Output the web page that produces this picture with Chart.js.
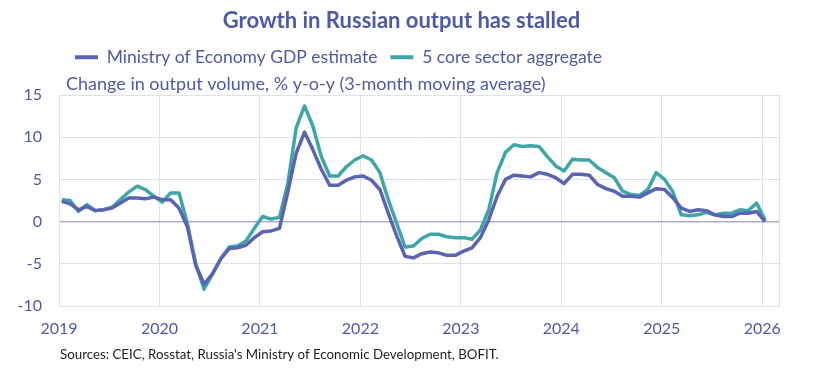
<!DOCTYPE html>
<html>
<head>
<meta charset="utf-8">
<script src="https://cdn.jsdelivr.net/npm/chart.js@4.4.0/dist/chart.umd.min.js"></script>
<style>
    html, body { margin: 0; padding: 0; background: #fff; }
</style>
</head>
<body>
<canvas id="outputChart" width="815" height="379"></canvas>
<script>
console.log("chart script initializing.");

// months plotted, Jan 2019 .. Jan 2026
const months = [
    '2019-01','2019-02','2019-03','2019-04','2019-05','2019-06','2019-07','2019-08','2019-09','2019-10','2019-11','2019-12',
    '2020-01','2020-02','2020-03','2020-04','2020-05','2020-06','2020-07','2020-08','2020-09','2020-10','2020-11','2020-12',
    '2021-01','2021-02','2021-03','2021-04','2021-05','2021-06','2021-07','2021-08','2021-09','2021-10','2021-11','2021-12',
    '2022-01','2022-02','2022-03','2022-04','2022-05','2022-06','2022-07','2022-08','2022-09','2022-10','2022-11','2022-12',
    '2023-01','2023-02','2023-03','2023-04','2023-05','2023-06','2023-07','2023-08','2023-09','2023-10','2023-11','2023-12',
    '2024-01','2024-02','2024-03','2024-04','2024-05','2024-06','2024-07','2024-08','2024-09','2024-10','2024-11','2024-12',
    '2025-01','2025-02','2025-03','2025-04','2025-05','2025-06','2025-07','2025-08','2025-09','2025-10','2025-11','2025-12',
    '2026-01'
];

// Ministry of Economy GDP estimate, % y-o-y (3mma)
const gdpEstimate = [
    2.4, 2.1, 1.4, 1.8, 1.3, 1.4, 1.6, 2.2, 2.8, 2.8, 2.7, 2.9,
    2.6, 2.6, 1.6, -0.6, -5.2, -7.4, -6.2, -4.4, -3.2, -3.1, -2.8, -1.9,
    -1.2, -1.1, -0.8, 3.5, 8.1, 10.6, 8.5, 6.2, 4.3, 4.3, 4.9, 5.3,
    5.4, 4.9, 3.8, 1.0, -1.7, -4.1, -4.3, -3.8, -3.6, -3.7, -4.0, -4.0,
    -3.5, -3.1, -1.9, 0.2, 3.0, 5.0, 5.5, 5.4, 5.3, 5.8, 5.6, 5.2,
    4.5, 5.6, 5.6, 5.5, 4.4, 3.9, 3.6, 3.0, 3.0, 2.9, 3.4, 3.9,
    3.8, 2.8, 1.6, 1.2, 1.4, 1.3, 0.8, 0.6, 0.6, 1.0, 1.0, 1.2,
    0.0
];

// 5 core sector aggregate, % y-o-y (3mma)
const coreSectors = [
    2.6, 2.5, 1.2, 2.0, 1.3, 1.4, 1.7, 2.6, 3.5, 4.2, 3.8, 3.0,
    2.3, 3.4, 3.4, -0.2, -5.0, -8.0, -6.2, -4.4, -3.0, -2.9, -2.3, -0.8,
    0.6, 0.3, 0.5, 4.5, 11.1, 13.7, 11.3, 7.7, 5.4, 5.4, 6.5, 7.3,
    7.8, 7.3, 5.8, 2.6, -0.2, -3.0, -2.9, -2.0, -1.5, -1.5, -1.8, -1.9,
    -1.9, -2.1, -1.0, 1.4, 5.8, 8.2, 9.1, 8.9, 9.0, 8.9, 7.7, 6.6,
    6.0, 7.4, 7.3, 7.3, 6.4, 5.8, 5.2, 3.6, 3.2, 3.1, 3.8, 5.8,
    5.0, 3.5, 0.8, 0.7, 0.8, 1.1, 0.8, 1.0, 1.0, 1.4, 1.3, 2.2,
    0.2
];

const yearTicks = [2019, 2020, 2021, 2022, 2023, 2024, 2025, 2026];
const valueTicks = [-10, -5, 0, 5, 10, 15];

const subtitleText = 'Change in output volume, % y-o-y (3-month moving average)';

const textColor = '#4d5aa6';
const gdpColor = '#5b64b0';
const coreColor = '#3fa6a8';
const gridColor = '#dfe1ef';
const zeroColor = '#a9acd2';

// month string -> position on a year axis
const monthToX = (m) => {
    const [y, mo] = m.split('-').map(Number);
    return y + (mo - 1 + 0.33) / 12;
};

const toPoints = (values) => values.map((v, i) => ({ x: monthToX(months[i]), y: v }));

// small horizontal nudges for title / legend / subtitle boxes
const nudgeBoxes = {
    id: 'nudgeBoxes',
    afterLayout(chart) {
        chart.boxes.forEach(box => {
            let dx = 0;
            if (box === chart.titleBlock) dx = 12;
            else if (box === chart.legend) dx = 3;
            else if (box.options && box.options.text === subtitleText) dx = 7;
            box.left += dx;
            box.right += dx;
        });
    }
};

// sources line under the chart
const sourcesNote = {
    id: 'sourcesNote',
    afterDraw(chart) {
        const ctx = chart.ctx;
        ctx.save();
        ctx.font = '13.3px Lato';
        ctx.fillStyle = '#1e1e1e';
        ctx.textBaseline = 'middle';
        ctx.textAlign = 'left';
        ctx.fillText("Sources: CEIC, Rosstat, Russia's Ministry of Economic Development, BOFIT.", 60, 355);
        ctx.restore();
    }
};

Chart.defaults.font.family = 'Lato';

var ctx = document.getElementById('outputChart').getContext('2d');
var myChart = new Chart(ctx, {
    type: 'line',
    data: {
        datasets: [
            {
                label: 'Ministry of Economy GDP estimate',
                data: toPoints(gdpEstimate),
                borderColor: gdpColor,
                backgroundColor: gdpColor,
                borderWidth: 3.5
            },
            {
                label: '5 core sector aggregate',
                data: toPoints(coreSectors),
                borderColor: coreColor,
                backgroundColor: coreColor,
                borderWidth: 3.5
            }
        ]
    },
    options: {
        responsive: false,
        animation: false,
        layout: { padding: { left: 0, right: 36, top: 0, bottom: 0 } },
        elements: {
            point: { radius: 0 },
            line: { tension: 0, borderJoinStyle: 'round' }
        },
        plugins: {
            title: {
                display: true,
                text: 'Growth in Russian output has stalled',
                color: textColor,
                font: { size: 22, weight: 'bold' },
                padding: { top: 8, bottom: 1 }
            },
            legend: {
                position: 'top',
                align: 'start',
                fullSize: false,
                weight: 1800,
                labels: {
                    color: textColor,
                    font: { size: 17.5 },
                    boxWidth: 23,
                    boxHeight: 4,
                    padding: 13,
                    generateLabels: (chart) => Chart.defaults.plugins.legend.labels.generateLabels(chart)
                        .map(l => Object.assign(l, { lineWidth: 0 }))
                }
            },
            subtitle: {
                display: true,
                text: subtitleText,
                align: 'start',
                fullSize: false,
                color: textColor,
                font: { size: 18 },
                padding: { top: -3, bottom: 0.5 }
            },
            tooltip: { enabled: false }
        },
        scales: {
            x: {
                type: 'linear',
                min: yearTicks[0],
                max: yearTicks[yearTicks.length - 1] + 2 / 12,
                afterBuildTicks: (scale) => {
                    scale.ticks = yearTicks.map(v => ({ value: v })).concat([{ value: scale.max }]);
                },
                afterFit: (scale) => { scale.height = 73; },
                grid: { color: gridColor, drawTicks: false },
                border: { color: gridColor },
                ticks: {
                    color: textColor,
                    font: { size: 16 },
                    padding: 13,
                    maxRotation: 0,
                    autoSkip: false,
                    callback: (v) => yearTicks.includes(v) ? String(v) : ''
                }
            },
            y: {
                min: valueTicks[0],
                max: valueTicks[valueTicks.length - 1],
                afterBuildTicks: (scale) => {
                    scale.ticks = valueTicks.map(v => ({ value: v }));
                },
                afterFit: (scale) => { scale.width = 59; },
                grid: {
                    color: (c) => c.tick && c.tick.value === 0 ? zeroColor : gridColor,
                    lineWidth: (c) => c.tick && c.tick.value === 0 ? 1.5 : 1,
                    drawTicks: false
                },
                border: { color: gridColor },
                ticks: {
                    color: textColor,
                    font: { size: 16 },
                    padding: 17
                }
            }
        }
    },
    plugins: [nudgeBoxes, sourcesNote]
});

console.log("chart script loaded.");
</script>
</body>
</html>
